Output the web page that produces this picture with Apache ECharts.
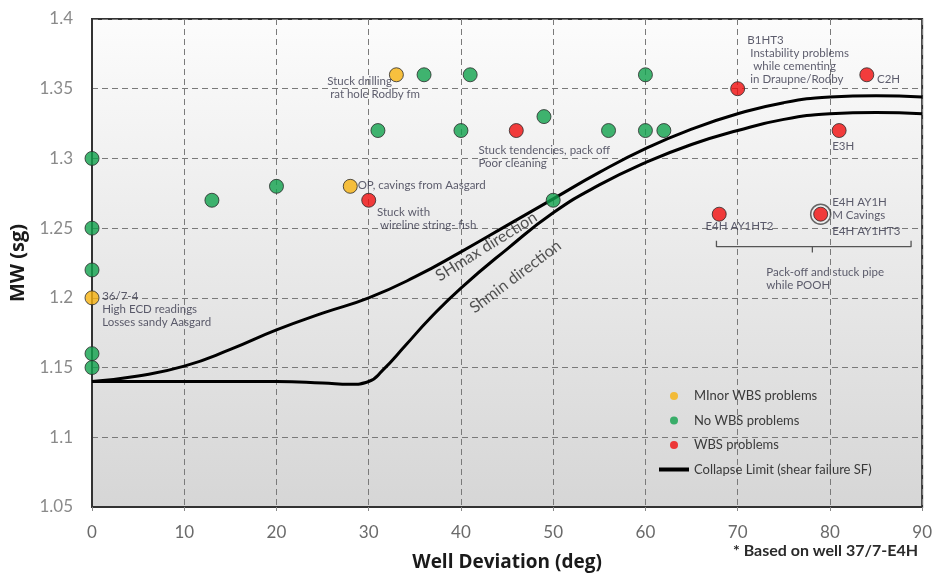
<!DOCTYPE html>
<html>
<head>
<meta charset="utf-8">
<script src="https://cdn.jsdelivr.net/npm/echarts@6/dist/echarts.min.js"></script>
<style>html,body{margin:0;padding:0;background:#fff}#c{width:935px;height:577px}</style>
</head>
<body>
<div id="c"></div>
<script>
// ---- data ----
var minorWBS = [[0,1.20],[33,1.36],[28,1.28]];
var noWBS = [[0,1.30],[0,1.25],[0,1.22],[0,1.16],[0,1.15],[13,1.27],[20,1.28],[31,1.32],[36,1.36],[41,1.36],[40,1.32],[49,1.33],[50,1.27],[56,1.32],[60,1.36],[60,1.32],[62,1.32]];
var wbsProblems = [[30,1.27],[46,1.32],[70,1.35],[84,1.36],[81,1.32],[68,1.26],[79,1.26]];
var highlighted = [[79,1.26]];
var shmaxCurve = [[0,1.14],[5,1.144],[10,1.151],[15,1.163],[20,1.177],[25,1.189],[30,1.20],[35,1.215],[40,1.233],[45,1.252],[50,1.271],[55,1.29],[60,1.307],[65,1.321],[70,1.332],[75,1.34],[80,1.344],[85,1.345],[90,1.344]];
var shminCurve = [[0,1.14],[10,1.14],[20,1.14],[25,1.139],[28,1.138],[30,1.14],[31.5,1.148],[34,1.166],[36.6,1.185],[40,1.207],[45,1.235],[50,1.261],[55,1.281],[60,1.297],[65,1.31],[70,1.32],[75,1.328],[80,1.332],[85,1.333],[90,1.332]];
var bracket = [[67.7,1.241],[67.7,1.2367],[78.1,1.2367],[78.1,1.2325],[78.1,1.2367],[88.8,1.2367],[88.8,1.241]];
var annotations = [
  ['Stuck drilling\n rat hole Rodby fm', 25.5, 1.3505],
  ['OP, cavings from Aasgard', 28.8, 1.281],
  ['Stuck with\n wireline string- fish', 30.9, 1.2567],
  ['Stuck tendencies, pack off\nPoor cleaning', 41.9, 1.3013],
  ['36/7-4\nHigh ECD readings\nLosses sandy Aasgard', 1.1, 1.1918],
  ['B1HT3\n Instability problems\n  while cementing\n in Draupne/Rodby', 71.05, 1.3704],
  ['C2H', 85.1, 1.3565],
  ['E3H', 80.25, 1.3088],
  ['E4H AY1HT2', 66.5, 1.251],
  ['E4H AY1H\nM Cavings', 80.25, 1.2638],
  ['E4H AY1HT3', 80.25, 1.2474],
  ['Pack-off and stuck pipe\nwhile POOH', 73.1, 1.214]
];
var curveLabels = [['SHmax direction', 42.75, 1.2368, 32],['Shmin direction', 45.9, 1.2152, 37]];
var xTicks = [0,10,20,30,40,50,60,70,80,90];
var yTicks = ['1.05','1.1','1.15','1.2','1.25','1.3','1.35','1.4'];
var legendNames = ['MInor WBS problems','No WBS problems','WBS problems','Collapse Limit (shear failure SF)'];

// ---- chart ----
var chart = echarts.init(document.getElementById('c'));
var FONT = 'Lato, "Open Sans", sans-serif';
function pt(color){
  return {color: color, borderColor: '#2b2b2b', borderWidth: 1};
}
var option = {
  animation: false,
  textStyle: {fontFamily: FONT},
  grid: {left: 92, right: 11, top: 19, bottom: 67, show: true,
    borderColor: '#333', borderWidth: 2,
    backgroundColor: new echarts.graphic.LinearGradient(0,0,0,1,[{offset:0,color:'#fcfcfc'},{offset:1,color:'#d6d6d6'}])},
  xAxis: {type: 'value', min: xTicks[0], max: xTicks[xTicks.length-1], interval: 10,
    name: 'Well Deviation (deg)', nameLocation: 'middle', nameGap: 46,
    nameTextStyle: {fontSize: 19, fontWeight: 'bold', color: '#1a1a1a', fontFamily: '"Open Sans", sans-serif'},
    axisLine: {show: true, lineStyle: {color: '#333', width: 2}},
    axisTick: {show: true, length: 4, lineStyle: {color: '#888'}},
    axisLabel: {fontSize: 17, color: '#6a6a6a', margin: 17},
    splitLine: {show: true, lineStyle: {color: '#7a7a7a', type: [6,4], width: 1}}},
  yAxis: {type: 'value', min: 1.05, max: 1.4, interval: 0.05,
    name: 'MW (sg)', nameLocation: 'middle', nameGap: 58,
    nameTextStyle: {fontSize: 20, fontWeight: 'bold', color: '#1a1a1a', fontFamily: '"Open Sans", sans-serif'},
    axisLine: {show: true, lineStyle: {color: '#333', width: 2}},
    axisTick: {show: false},
    axisLabel: {fontSize: 17, color: '#8a8a8a', margin: 19, formatter: function(v){
      var s = String(parseFloat(v.toFixed(2)));
      return yTicks.indexOf(s) >= 0 ? s : '';
    }},
    splitLine: {show: true, lineStyle: {color: '#7a7a7a', type: [6,4], width: 1}}},
  legend: {orient: 'vertical', left: 654, top: 384, itemWidth: 30, itemHeight: 8, itemGap: 10.5,
    textStyle: {fontSize: 13, color: '#3a3a3a', lineHeight: 14, fontFamily: FONT},
    data: [
      {name: legendNames[0], icon: 'circle', itemStyle: {borderWidth: 0}},
      {name: legendNames[1], icon: 'circle', itemStyle: {borderWidth: 0}},
      {name: legendNames[2], icon: 'circle', itemStyle: {borderWidth: 0}},
      {name: legendNames[3], icon: 'path://M0,0H30V4H0Z', itemStyle: {color: '#000'}}
    ]},
  graphic: [{type: 'text', right: 17, top: 543, style: {text: '* Based on well 37/7-E4H', fontSize: 16, fontWeight: 'bold', fill: '#2a2a2a', fontFamily: FONT}}],
  series: [
    {name: legendNames[3], type: 'line', data: shmaxCurve, smooth: 0.5, symbol: 'none', lineStyle: {color: '#000', width: 3}, itemStyle: {color: '#000'}, z: 2},
    {name: legendNames[3], type: 'line', data: shminCurve, smooth: 0.5, symbol: 'none', lineStyle: {color: '#000', width: 3}, itemStyle: {color: '#000'}, z: 2},
    {name: 'bracket', type: 'line', data: bracket, symbol: 'none', lineStyle: {color: '#555', width: 1.3}, z: 2},
    {name: 'ring', type: 'scatter', data: highlighted, symbol: 'circle', symbolSize: 20, itemStyle: {color: 'rgba(0,0,0,0)', borderColor: '#444', borderWidth: 1.5}, z: 3},
    {name: legendNames[0], type: 'scatter', data: minorWBS, symbolSize: 14, itemStyle: pt('#f6b10f'), z: 4},
    {name: legendNames[1], type: 'scatter', data: noWBS, symbolSize: 14, itemStyle: pt('#10a14c'), z: 4},
    {name: legendNames[2], type: 'scatter', data: wbsProblems, symbolSize: 14, itemStyle: pt('#f00d0d'), z: 4},
    {name: 'annotations', type: 'scatter', symbolSize: 0, silent: true, z: 5,
      data: annotations.map(function(a){ return {value: [a[1], a[2]], label: {formatter: a[0]}}; }),
      label: {show: true, position: 'right', distance: 0, fontSize: 11.5, lineHeight: 13, color: '#36364a', fontFamily: FONT}},
    {name: 'curveLabels', type: 'scatter', symbolSize: 0, silent: true, z: 5,
      data: curveLabels.map(function(a){ return {value: [a[1], a[2]], label: {formatter: a[0], rotate: a[3]}}; }),
      label: {show: true, position: 'inside', fontSize: 16, color: '#2a2a2a', fontFamily: FONT}}
  ]
};
chart.setOption(option);
</script>
</body>
</html>
